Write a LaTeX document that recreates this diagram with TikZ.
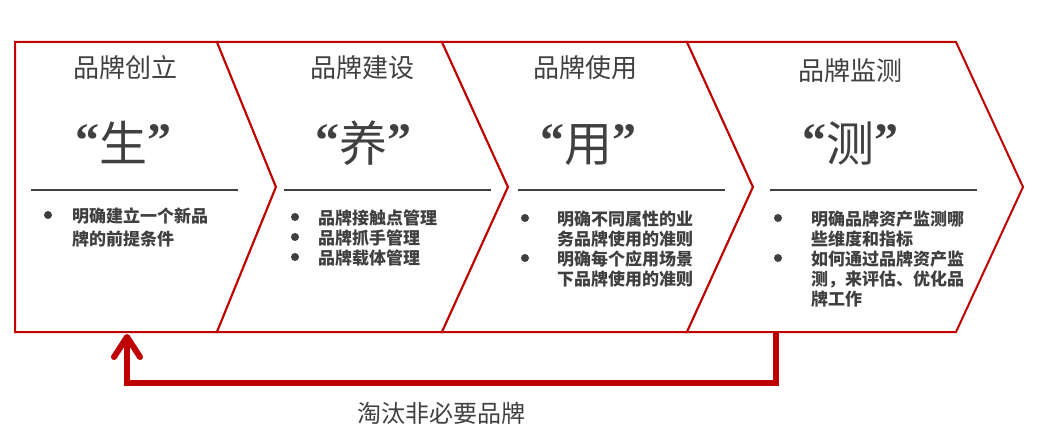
\documentclass[tikz,border=0pt]{standalone}
\usepackage{fontspec}
\newfontfamily\cjk{Noto Sans CJK SC}
\newfontfamily\qfont{Liberation Serif}
\usetikzlibrary{arrows.meta}
\definecolor{brandred}{HTML}{C00000}
\definecolor{txtgray}{HTML}{404040}
\newcommand{\qopenmark}{\raisebox{5pt}{\qfont\bfseries “}}
\newcommand{\qclosemark}{\raisebox{5pt}{\qfont\bfseries ”}}
\begin{document}
\begin{tikzpicture}[x=1pt,y=-1pt,
  chev/.style={draw=brandred, line width=2pt, fill=white, line join=miter},
  divider/.style={draw=txtgray, line width=2pt},
  ttl/.style={font=\cjk\fontsize{26}{30}\selectfont, text=txtgray, inner sep=0pt},
  bigc/.style={font=\cjk\fontsize{48}{52}\selectfont, text=txtgray, inner sep=0pt},
  itm/.style={font=\cjk\bfseries\fontsize{17}{20}\selectfont, text=txtgray, inner sep=0pt, anchor=north west, align=left},
  bdot/.style={circle, fill=txtgray, minimum size=8pt, inner sep=0pt},
  returnline/.style={draw=brandred, line width=6pt},
  lbl/.style={font=\cjk\fontsize{24}{28}\selectfont, text=txtgray, inner sep=0pt},
]
\useasboundingbox (0,0) rectangle (1044,446);
\fill[white] (0,0) rectangle (1044,446);

% chevrons
\path[chev] (15,42) -- (217,42) -- (276,187) -- (217,332) -- (15,332) -- cycle;
\path[chev] (217,42) -- (442,42) -- (508,187) -- (442,332) -- (217,332) -- (276,187) -- cycle;
\path[chev] (442,42) -- (687,42) -- (753,187) -- (687,332) -- (442,332) -- (508,187) -- cycle;
\path[chev] (687,42) -- (956,42) -- (1023,187) -- (956,332) -- (687,332) -- (753,187) -- cycle;

% titles
\node[ttl] (t1) at (125,68) {品牌创立};
\node[ttl] (t2) at (362,68) {品牌建设};
\node[ttl] (t3) at (585,68) {品牌使用};
\node[ttl] (t4) at (850,71) {品牌监测};

% big characters
\node[bigc, anchor=base] (b1) at (123,162) {\qopenmark 生\qclosemark};
\node[bigc, anchor=base] (b2) at (363,162) {\qopenmark 养\qclosemark};
\node[bigc, anchor=base] (b3) at (588,162) {\qopenmark 用\qclosemark};
\node[bigc, anchor=base] (b4) at (850,162) {\qopenmark 测\qclosemark};

% dividers
\draw[divider] (31,190) -- (238,190);
\draw[divider] (284,190) -- (491,190);
\draw[divider] (518,190) -- (725,190);
\draw[divider] (770,190) -- (977,190);

% column 1
\node[bdot] (d11) at (48,215) {};
\node[itm, font=\cjk\bfseries\fontsize{17}{23}\selectfont] (i11) at (72,207.5) {明确建立一个新品\\牌的前提条件};

% column 2
\node[bdot] (d21) at (295,217) {};
\node[bdot] (d22) at (295,237) {};
\node[bdot] (d23) at (295,257) {};
\node[itm] (i21) at (318,209.5) {品牌接触点管理};
\node[itm] (i22) at (318,229.5) {品牌抓手管理};
\node[itm] (i23) at (318,249.5) {品牌载体管理};

% column 3
\node[bdot] (d31) at (525,218) {};
\node[bdot] (d32) at (525,258) {};
\node[itm] (i31) at (557,210.5) {明确不同属性的业\\务品牌使用的准则};
\node[itm] (i32) at (557,250.5) {明确每个应用场景\\下品牌使用的准则};

% column 4
\node[bdot] (d41) at (778,218) {};
\node[bdot] (d42) at (778,258) {};
\node[itm] (i41) at (811,210.5) {明确品牌资产监测哪\\些维度和指标};
\node[itm] (i42) at (811,250.5) {如何通过品牌资产监\\测，来评估、优化品\\牌工作};

% return arrow
\coordinate (rstart) at (776,332);
\coordinate (rturn) at (776,383);
\coordinate (rend) at (127,334);
\draw[returnline, -{Straight Barb[length=20pt,width=26pt,round]}] (rstart) -- (rturn) -| (rend);

\node[lbl] (lab) at (441,413) {淘汰非必要品牌};
\end{tikzpicture}
\end{document}
